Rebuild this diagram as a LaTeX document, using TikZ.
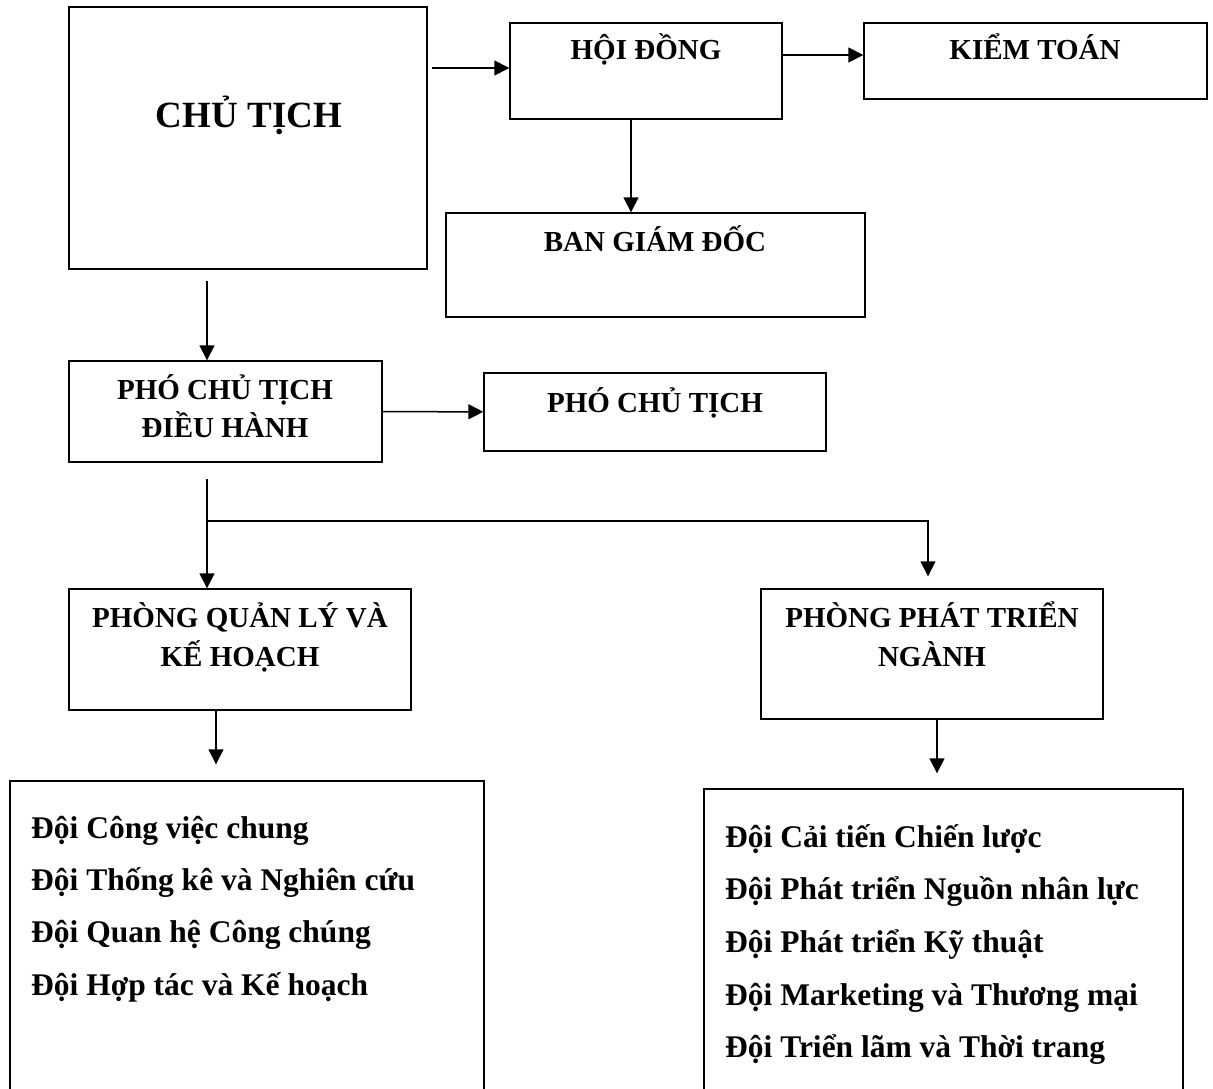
\documentclass[tikz,border=0pt]{standalone}
\usepackage{fontspec}
\setmainfont{Liberation Serif}
\usetikzlibrary{arrows.meta, positioning, calc}
\tikzset{
  obox/.style ={rectangle, draw=black, line width=1.4pt, fill=white, inner sep=0pt},
  ohead/.style={anchor=base, inner sep=0pt, font=\bfseries\fontsize{29}{35}\selectfont},
  obig/.style ={anchor=base, inner sep=0pt, font=\bfseries\fontsize{37}{44}\selectfont},
  oitem/.style={anchor=base west, inner sep=0pt, font=\bfseries\fontsize{31.5}{38}\selectfont},
  oarr/.style ={-{Triangle[length=15pt,width=15pt]}, line width=1.5pt, color=black},
}

\begin{document}
\begin{tikzpicture}[x=1pt, y=-1pt]
  \useasboundingbox[fill=white] (0,0) rectangle (1213,1089);

  % boxes
  \node[obox, minimum width=358pt, minimum height=262pt] (ct)   at (248,138)     {};
  \node[obox, minimum width=272pt, minimum height=96pt]  (hd)   at (646,71)      {};
  \node[obox, minimum width=343pt, minimum height=76pt]  (kt)   at (1035.5,61)   {};
  \node[obox, minimum width=419pt, minimum height=104pt] (bgd)  at (655.5,265)   {};
  \node[obox, minimum width=313pt, minimum height=101pt] (pcth) at (225.5,411.5) {};
  \node[obox, minimum width=342pt, minimum height=78pt]  (pct)  at (655,412)     {};
  \node[obox, minimum width=342pt, minimum height=121pt] (pql)  at (240,649.5)   {};
  \node[obox, minimum width=342pt, minimum height=130pt] (ppt)  at (932,654)     {};
  \node[obox, minimum width=474pt, minimum height=339pt] (dl)   at (247,950.5)   {};
  \node[obox, minimum width=479pt, minimum height=331pt] (dr)   at (943.5,954.5) {};

  % titles
  \node[obig]  (ctt)   at (249,128)  {CHỦ TỊCH};
  \node[ohead] (hdt)   at (646,60)   {HỘI ĐỒNG};
  \node[ohead] (ktt)   at (1035,60)  {KIỂM TOÁN};
  \node[ohead] (bgdt)  at (655,251)  {BAN GIÁM ĐỐC};
  \node[ohead] (pcth1) at (225,399)  {PHÓ CHỦ TỊCH};
  \node[ohead] (pcth2) at (225,437)  {ĐIỀU HÀNH};
  \node[ohead] (pctt)  at (655,412)  {PHÓ CHỦ TỊCH};
  \node[ohead] (pql1)  at (240,627)  {PHÒNG QUẢN LÝ VÀ};
  \node[ohead] (pql2)  at (240,666)  {KẾ HOẠCH};
  \node[ohead] (ppt1)  at (932,627)  {PHÒNG PHÁT TRIỂN};
  \node[ohead] (ppt2)  at (932,666)  {NGÀNH};

  % team lists
  \foreach \t [count=\i] in {Đội Công việc chung, Đội Thống kê và Nghiên cứu,
      Đội Quan hệ Công chúng, Đội Hợp tác và Kế hoạch}
    \node[oitem] (l\i) at (31,{838+52.4*(\i-1)}) {\t};
  \foreach \t [count=\i] in {Đội Cải tiến Chiến lược, Đội Phát triển Nguồn nhân lực,
      Đội Phát triển Kỹ thuật, Đội Marketing và Thương mại, Đội Triển lãm và Thời trang}
    \node[oitem] (r\i) at (725,{847+52.7*(\i-1)}) {\t};

  % connectors
  \coordinate (ch) at ([yshift=3pt]hd.west);
  \draw[oarr, shorten <=4pt] (ch -| ct.east) -- (ch);
  \coordinate (hk) at ([yshift=6pt]kt.west);
  \draw[oarr] (hk -| hd.east) -- (hk);
  \coordinate (hb) at ([xshift=-15pt]hd.south);
  \draw[oarr] (hb) -- (hb |- bgd.north);
  \coordinate (cp) at (207,281);
  \draw[oarr] (cp) -- (cp |- pcth.north);
  \draw[oarr] (pcth) -- (pct);
  \coordinate (tr) at (207,479);
  \draw[oarr] (tr) -- (tr |- pql.north);
  \coordinate (br) at (207,521);
  \coordinate (pp) at ([xshift=-4pt]ppt.north);
  \draw[oarr, shorten >=12pt] (br) -| (pp);
  \coordinate (qd) at ([xshift=-24pt]pql.south);
  \draw[oarr, shorten >=16pt] (qd) -- (qd |- dl.north);
  \coordinate (pd) at ([xshift=5pt]ppt.south);
  \draw[oarr, shorten >=15pt] (pd) -- (pd |- dr.north);
\end{tikzpicture}
\end{document}
